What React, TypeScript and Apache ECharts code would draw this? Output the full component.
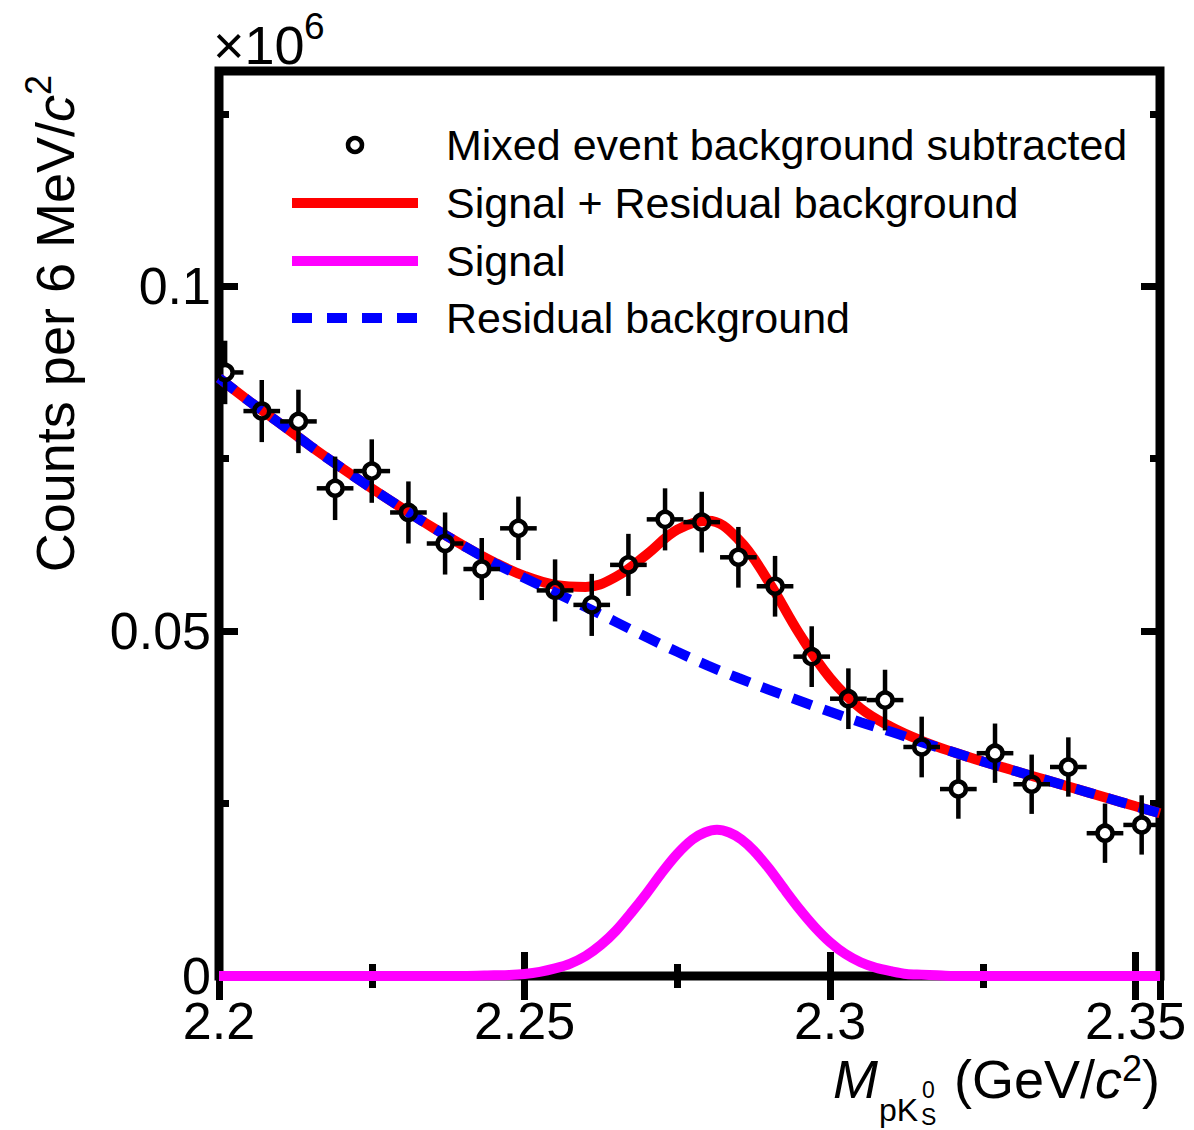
import { useEffect, useRef } from "react";
import * as echarts from "echarts";

const FONT = "'Liberation Sans', Arial, Helvetica, sans-serif";

// Mixed event background subtracted data (x10^6 counts per 6 MeV/c^2)
const pointMass = [
  2.201, 2.207, 2.213, 2.219, 2.225, 2.231, 2.237, 2.243, 2.249, 2.255, 2.261, 2.267, 2.273,
  2.279, 2.285, 2.291, 2.297, 2.303, 2.309, 2.315, 2.321, 2.327, 2.333, 2.339, 2.345, 2.351,
];
const pointCounts = [
  0.0875, 0.0819, 0.0804, 0.0707, 0.0732, 0.0672, 0.0627, 0.059, 0.0649, 0.0559, 0.0538, 0.0596,
  0.0662, 0.0658, 0.0607, 0.0565, 0.0463, 0.0402, 0.04, 0.0332, 0.0271, 0.0323, 0.0278, 0.0303,
  0.0207, 0.0219,
];
const pointErrors = [
  0.0046, 0.0045, 0.0046, 0.0046, 0.0046, 0.0045, 0.0045, 0.0045, 0.0046, 0.0045, 0.0045, 0.0045,
  0.0045, 0.0044, 0.0044, 0.0044, 0.0044, 0.0044, 0.0044, 0.0044, 0.0043, 0.0043, 0.0043, 0.0043,
  0.0043, 0.0043,
];
const binHalfWidth = 0.003;

// Fit curves
const curveMass = [
  2.2, 2.205, 2.21, 2.215, 2.22, 2.225, 2.23, 2.235, 2.24, 2.245, 2.25, 2.255, 2.26, 2.265, 2.27,
  2.275, 2.28, 2.285, 2.29, 2.295, 2.3, 2.305, 2.31, 2.315, 2.32, 2.325, 2.33, 2.335, 2.34, 2.345,
  2.35, 2.354,
];
const totalFit = [
  0.0867, 0.0833, 0.0801, 0.0768, 0.0737, 0.0707, 0.0678, 0.065, 0.0624, 0.06, 0.058, 0.0567,
  0.0564, 0.0579, 0.0611, 0.0647, 0.066, 0.0633, 0.0571, 0.0496, 0.0432, 0.0388, 0.0361, 0.0341,
  0.0325, 0.0311, 0.0298, 0.0285, 0.0272, 0.0259, 0.0246, 0.0236,
];
const backgroundFit = [
  0.0867, 0.0833, 0.0801, 0.0768, 0.0737, 0.0707, 0.0678, 0.065, 0.0624, 0.0599, 0.0577, 0.0556,
  0.0535, 0.0513, 0.0491, 0.047, 0.045, 0.0432, 0.0415, 0.0399, 0.0383, 0.0368, 0.0354, 0.0339,
  0.0325, 0.0311, 0.0298, 0.0285, 0.0272, 0.0259, 0.0246, 0.0236,
];
const signalMass = [
  2.2, 2.24, 2.245, 2.2475, 2.25, 2.2525, 2.255, 2.2575, 2.26, 2.2625, 2.265, 2.2675, 2.27, 2.2725,
  2.275, 2.2775, 2.2795, 2.2815, 2.2835, 2.2855, 2.2875, 2.29, 2.2925, 2.295, 2.2975, 2.3, 2.3025,
  2.305, 2.3075, 2.31, 2.3125, 2.315, 2.3175, 2.32, 2.354,
];
const signalFit = [
  0, 0, 0.0001, 0.00015, 0.0003, 0.0006, 0.0011, 0.0018, 0.0029, 0.0045, 0.0066, 0.0092, 0.012,
  0.015, 0.0177, 0.0198, 0.0208, 0.0212, 0.0208, 0.0198, 0.0182, 0.0156, 0.0126, 0.0097, 0.0071,
  0.0049, 0.0032, 0.002, 0.0012, 0.0007, 0.0003, 0.0002, 0.0001, 0, 0,
];

const xTickLabels = ["2.2", "2.25", "2.3", "2.35"];
const yTickLabels = ["0", "0.05", "0.1"];
const legendNames = [
  "Mixed event background subtracted",
  "Signal + Residual background",
  "Signal",
  "Residual background",
];

const X_MIN = 2.2;
const X_MAX = 2.354;
const Y_MIN = 0;
const Y_MAX = 0.1312;

function fmt(labels: string[]) {
  return (v: number) => {
    const s = String(parseFloat(v.toFixed(4)));
    return labels.includes(s) ? s : "";
  };
}

export default function App() {
  const ref = useRef<HTMLDivElement>(null);

  useEffect(() => {
    if (!ref.current) return;
    const chart = echarts.init(ref.current, undefined, { renderer: "svg" });

    const tickStyle = { color: "#000", width: 7 };
    const mkX = (position: string, interval: number, len: number, labels: boolean) => ({
      type: "value",
      position,
      min: X_MIN,
      max: X_MAX,
      interval,
      axisLine: { show: false },
      axisTick: { show: true, inside: true, length: len, lineStyle: tickStyle },
      minorTick: { show: false },
      splitLine: { show: false },
      axisLabel: labels
        ? {
            show: true,
            formatter: fmt(xTickLabels),
            color: "#000",
            fontSize: 52,
            fontFamily: FONT,
            margin: 19,
          }
        : { show: false },
    });
    const mkY = (position: string, interval: number, len: number, labels: boolean) => ({
      type: "value",
      position,
      min: Y_MIN,
      max: Y_MAX,
      interval,
      axisLine: { show: false },
      axisTick: { show: true, inside: true, length: len, lineStyle: tickStyle },
      minorTick: { show: false },
      splitLine: { show: false },
      axisLabel: labels
        ? {
            show: true,
            formatter: fmt(yTickLabels),
            color: "#000",
            fontSize: 52,
            fontFamily: FONT,
            margin: 8,
          }
        : { show: false },
    });

    const points = pointMass.map((m, i) => [m, pointCounts[i], pointErrors[i]]);

    const legendY = [145, 203, 261, 318];
    const txt = (x: number, y: number, text: string, fontSize: number, extra: any = {}) => ({
      type: "text",
      x,
      y,
      silent: true,
      style: {
        text,
        fontSize,
        fontFamily: FONT,
        fill: "#000",
        align: "left",
        verticalAlign: "middle",
        ...extra,
      },
    });

    const option: any = {
      animation: false,
      backgroundColor: "#fff",
      grid: {
        left: 219,
        right: 34,
        top: 71,
        bottom: 154,
        show: true,
        borderColor: "#000",
        borderWidth: 9,
        backgroundColor: "transparent",
        containLabel: false,
        outerBoundsMode: "none",
      },
      xAxis: [
        mkX("bottom", 0.05, 24, true),
        mkX("bottom", 0.025, 12, false),
        mkX("top", 0.05, 24, false),
        mkX("top", 0.025, 12, false),
      ],
      yAxis: [
        mkY("left", 0.05, 19, true),
        mkY("left", 0.025, 10, false),
        mkY("right", 0.05, 19, false),
        mkY("right", 0.025, 10, false),
      ],
      series: [
        {
          type: "line",
          name: legendNames[1],
          xAxisIndex: 0,
          yAxisIndex: 0,
          data: curveMass.map((m, i) => [m, totalFit[i]]),
          symbol: "none",
          smooth: 0.4,
          silent: true,
          lineStyle: { color: "#ff0000", width: 10 },
          z: 3,
        },
        {
          type: "line",
          name: legendNames[2],
          xAxisIndex: 0,
          yAxisIndex: 0,
          data: signalMass.map((m, i) => [m, signalFit[i]]),
          symbol: "none",
          smooth: 0.3,
          silent: true,
          lineStyle: { color: "#ff00ff", width: 10 },
          z: 3,
        },
        {
          type: "line",
          name: legendNames[3],
          xAxisIndex: 0,
          yAxisIndex: 0,
          data: curveMass.map((m, i) => [m, backgroundFit[i]]),
          symbol: "none",
          smooth: 0.4,
          silent: true,
          lineStyle: { color: "#0000ff", width: 10, type: [20, 13] },
          z: 4,
        },
        {
          type: "custom",
          name: legendNames[0],
          xAxisIndex: 0,
          yAxisIndex: 0,
          data: points,
          encode: { x: 0, y: 1 },
          silent: true,
          clip: true,
          z: 10,
          renderItem: (_params: any, api: any) => {
            const x = api.value(0);
            const y = api.value(1);
            const e = api.value(2);
            const c = api.coord([x, y]);
            const top = api.coord([x, y + e]);
            const bot = api.coord([x, y - e]);
            const left = api.coord([x - binHalfWidth, y]);
            const right = api.coord([x + binHalfWidth, y]);
            const r = 7.5;
            const g = r + 1.5;
            const ls = { stroke: "#000", lineWidth: 4.5 };
            return {
              type: "group",
              children: [
                { type: "line", shape: { x1: c[0], y1: c[1] - g, x2: top[0], y2: top[1] }, style: ls },
                { type: "line", shape: { x1: c[0], y1: c[1] + g, x2: bot[0], y2: bot[1] }, style: ls },
                { type: "line", shape: { x1: c[0] - g, y1: c[1], x2: left[0], y2: left[1] }, style: ls },
                { type: "line", shape: { x1: c[0] + g, y1: c[1], x2: right[0], y2: right[1] }, style: ls },
                {
                  type: "circle",
                  shape: { cx: c[0], cy: c[1], r },
                  style: { fill: "none", stroke: "#000", lineWidth: 4.5 },
                },
              ],
            };
          },
        },
      ],
      graphic: [
        // legend
        {
          type: "circle",
          silent: true,
          shape: { cx: 355, cy: legendY[0], r: 7 },
          style: { fill: "none", stroke: "#000", lineWidth: 4.5 },
        },
        {
          type: "line",
          silent: true,
          shape: { x1: 292, y1: legendY[1], x2: 418, y2: legendY[1] },
          style: { stroke: "#ff0000", lineWidth: 10 },
        },
        {
          type: "line",
          silent: true,
          shape: { x1: 292, y1: legendY[2], x2: 418, y2: legendY[2] },
          style: { stroke: "#ff00ff", lineWidth: 10 },
        },
        {
          type: "line",
          silent: true,
          shape: { x1: 292, y1: legendY[3], x2: 418, y2: legendY[3] },
          style: { stroke: "#0000ff", lineWidth: 10, lineDash: [20, 15] },
        },
        ...legendNames.map((n, i) => txt(446, legendY[i], n, 43)),
        // exponent
        txt(213, 45, "×10", 54),
        txt(304, 26, "6", 37),
        // y title
        {
          type: "text",
          x: 55,
          y: 75,
          rotation: Math.PI / 2,
          silent: true,
          style: {
            text: "Counts per 6 MeV/{i|c}{sup|2}",
            fontSize: 54,
            fontFamily: FONT,
            fill: "#000",
            align: "right",
            verticalAlign: "middle",
            lineHeight: 70,
            rich: {
              i: { fontSize: 54, fontStyle: "italic", fontFamily: FONT, fill: "#000", lineHeight: 70 },
              sup: { fontSize: 36, fontFamily: FONT, fill: "#000", verticalAlign: "top" },
            },
          },
        },
        // x title
        txt(833, 1079, "M", 54, { fontStyle: "italic" }),
        txt(879, 1110, "pK", 32),
        txt(922, 1090, "0", 23),
        txt(921, 1117, "S", 23),
        {
          type: "text",
          x: 954,
          y: 1079,
          silent: true,
          style: {
            text: "(GeV/{i|c}{sup|2})",
            fontSize: 54,
            fontFamily: FONT,
            fill: "#000",
            align: "left",
            verticalAlign: "middle",
            lineHeight: 58,
            rich: {
              i: { fontSize: 54, fontStyle: "italic", fontFamily: FONT, fill: "#000", lineHeight: 58 },
              sup: { fontSize: 36, fontFamily: FONT, fill: "#000", verticalAlign: "top" },
            },
          },
        },
      ],
    };

    chart.setOption(option);
    return () => chart.dispose();
  }, []);

  return (
    <div
      ref={ref}
      style={{ position: "absolute", left: 0, top: 0, width: 1194, height: 1130, background: "#fff" }}
    />
  );
}
